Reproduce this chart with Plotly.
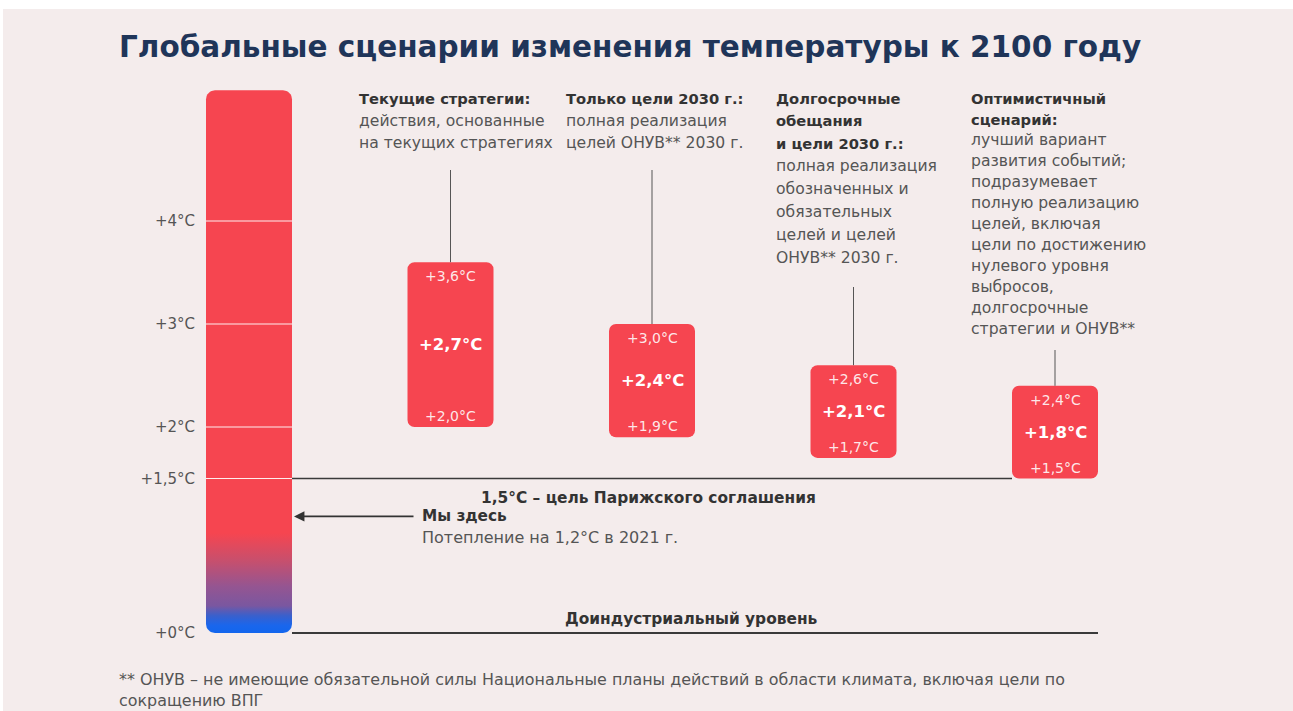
import plotly.graph_objects as go
import math

# ---------------- data ----------------
SCENARIO_NAMES = ["Текущие стратегии", "Только цели 2030 г.",
                  "Долгосрочные обещания и цели 2030 г.", "Оптимистичный сценарий"]
LOW = [2.0, 1.9, 1.7, 1.5]
MID = [2.7, 2.4, 2.1, 1.8]
HIGH = [3.6, 3.0, 2.6, 2.4]

TICK_VALS = [0, 1.5, 2, 3, 4]
TICK_TEXT = ["+0°C", "+1,5°C", "+2°C", "+3°C", "+4°C"]

PARIS_GOAL = 1.5
CURRENT_WARMING = 1.2
THERMO_TOP = 5.27

DESC_BOLD = [
    ["Текущие стратегии:"],
    ["Только цели 2030 г.:"],
    ["Долгосрочные", "обещания", "и цели 2030 г.:"],
    ["Оптимистичный", "сценарий:"],
]
DESC_TEXT = [
    ["действия, основанные", "на текущих стратегиях"],
    ["полная реализация", "целей ОНУВ** 2030 г."],
    ["полная реализация", "обозначенных и", "обязательных", "целей и целей", "ОНУВ** 2030 г."],
    ["лучший вариант", "развития событий;", "подразумевает", "полную реализацию",
     "целей, включая", "цели по достижению", "нулевого уровня", "выбросов,",
     "долгосрочные", "стратегии и ОНУВ**"],
]

TITLE = "Глобальные сценарии изменения температуры к 2100 году"
PARIS_LABEL = "1,5°C – цель Парижского соглашения"
HERE_LABEL = "Мы здесь"
HERE_SUB = "Потепление на 1,2°C в 2021 г."
BASE_LABEL = "Доиндустриальный уровень"
FOOTNOTE_LINES = ["** ОНУВ – не имеющие обязательной силы Национальные планы действий в области климата, "
                  "включая цели по", "сокращению ВПГ"]

def fmt(v):
    return "+" + f"{v:.1f}".replace(".", ",") + "°C"

# ---------------- layout geometry (pixels) ----------------
W, H = 1293, 711
ML, MT = 3, 9
X0_PX, PX_PER_X = 249.0, 201.5     # x = 0 -> thermometer centre
Y0_PX, PX_PER_Y = 633.0, 103.0     # y = 0 -> +0°C
BAR_W_PX = 86
FONT = "DejaVu Sans, Verdana, sans-serif"
RED = "#f64550"
BG = "#f4ecec"
DARK = "#333333"
GREY = "#555555"

def xv(px):
    return (px - X0_PX) / PX_PER_X

def yv(py):
    return (Y0_PX - py) / PX_PER_Y

bar_w = BAR_W_PX / PX_PER_X
xs = [i + 1 for i in range(len(LOW))]

fig = go.Figure()

# thermometer (rounded rectangle with vertical gradient)
def rounded_rect(xc, y0, y1, wpx, rt, rb):
    l = X0_PX + xc * PX_PER_X - wpx / 2
    r = l + wpx
    t = Y0_PX - y1 * PX_PER_Y
    b = Y0_PX - y0 * PX_PER_Y
    pts = []
    def arc(cx, cy, rad, a0, a1):
        for k in range(9):
            a = math.radians(a0 + (a1 - a0) * k / 8)
            pts.append((cx + rad * math.cos(a), cy - rad * math.sin(a)))
    arc(r - rb, b - rb, rb, 0, -90)        # bottom-right
    arc(l + rb, b - rb, rb, -90, -180)     # bottom-left
    arc(l + rt, t + rt, rt, 180, 90)       # top-left
    arc(r - rt, t + rt, rt, 90, 0)         # top-right
    pts.append(pts[0])
    return [xv(p[0]) for p in pts], [yv(p[1]) for p in pts]

tx, ty = rounded_rect(0, 0, THERMO_TOP, BAR_W_PX, 9, 9)
fig.add_trace(go.Scatter(
    x=tx, y=ty, mode="lines", line=dict(width=0), fill="toself",
    fillgradient=dict(type="vertical", start=0, stop=THERMO_TOP,
                      colorscale=[[0, "#1266ee"], [0.014, "#1a66ec"], [0.032, "#3a60cc"],
                                  [0.05, "#7a57a0"], [0.086, "#955591"], [0.135, "#c94f6c"],
                                  [0.184, RED], [1, RED]]),
    hoverinfo="skip", showlegend=False))

# white separators inside thermometer at tick values
for v in TICK_VALS[1:]:
    fig.add_trace(go.Scatter(x=[-bar_w / 2, bar_w / 2], y=[v, v], mode="lines",
                             line=dict(color="rgba(255,255,255,0.9)", width=1),
                             hoverinfo="skip", showlegend=False))

# stems from descriptions to boxes
STEM_TOP_PX = [170, 170, 287, 350]
for i, x in enumerate(xs):
    fig.add_trace(go.Scatter(x=[x, x], y=[HIGH[i], yv(STEM_TOP_PX[i])], mode="lines",
                             line=dict(color=GREY, width=1), hoverinfo="skip", showlegend=False))

# scenario boxes
fig.add_trace(go.Bar(
    x=xs, y=[h - l for h, l in zip(HIGH, LOW)], base=LOW, width=bar_w,
    marker=dict(color=RED, line=dict(width=0), cornerradius=7),
    hoverinfo="skip", showlegend=False))

# Paris goal line and pre-industrial baseline
fig.add_trace(go.Scatter(x=[bar_w / 2, xs[-1] - bar_w / 2], y=[PARIS_GOAL, PARIS_GOAL],
                         mode="lines", line=dict(color="#3a3a3a", width=1.5),
                         hoverinfo="skip", showlegend=False))
fig.add_trace(go.Scatter(x=[bar_w / 2, xs[-1] + bar_w / 2], y=[0, 0],
                         mode="lines", line=dict(color="#3a3a3a", width=2),
                         hoverinfo="skip", showlegend=False))

ann = []
# box labels
for i, x in enumerate(xs):
    ann.append(dict(x=x, y=HIGH[i], text=fmt(HIGH[i]), showarrow=False, yshift=-14,
                    font=dict(size=14, color="rgba(255,255,255,0.88)", family=FONT)))
    ann.append(dict(x=x, y=LOW[i], text=fmt(LOW[i]), showarrow=False, yshift=11,
                    font=dict(size=14, color="rgba(255,255,255,0.88)", family=FONT)))
    ann.append(dict(x=x, y=(LOW[i] + HIGH[i]) / 2, text="<b>" + fmt(MID[i]) + "</b>",
                    showarrow=False, font=dict(size=16.5, color="white", family=FONT)))

# descriptions
DESC_LEFT_PX = [357, 564, 774, 969]
DESC_TOP_PX = 98
DESC_STEP_PX = [22.5, 22.5, 22.8, 21.0]
for i in range(len(xs)):
    lines = [("<b>" + s + "</b>", DARK, 14.7) for s in DESC_BOLD[i]] + \
            [(s, GREY, 15.6) for s in DESC_TEXT[i]]
    for k, (s, c, fs) in enumerate(lines):
        ann.append(dict(x=xv(DESC_LEFT_PX[i]), y=yv(DESC_TOP_PX + k * DESC_STEP_PX[i]),
                        text=s, showarrow=False, xanchor="left", yanchor="middle",
                        font=dict(size=fs, color=c, family=FONT)))

# title
ann.append(dict(x=xv(117), y=yv(47), text="<b>" + TITLE + "</b>", showarrow=False,
                xanchor="left", yanchor="middle", font=dict(size=29.5, color="#1f3559", family=FONT)))

# paris label
ann.append(dict(x=xv(648), y=PARIS_GOAL, yshift=-19, text="<b>" + PARIS_LABEL + "</b>",
                showarrow=False, font=dict(size=15.4, color=DARK, family=FONT)))
# we are here arrow (drawn a few px lower, as in the original infographic)
HERE_SHIFT = -7
ann.append(dict(x=bar_w / 2 + 0.01, y=CURRENT_WARMING, ax=xv(415), ay=CURRENT_WARMING,
                axref="x", ayref="y", text="", showarrow=True, arrowhead=2, arrowsize=1.3,
                arrowwidth=1.6, arrowcolor=DARK, yshift=HERE_SHIFT))
ann.append(dict(x=xv(420), y=CURRENT_WARMING, yshift=HERE_SHIFT, text="<b>" + HERE_LABEL + "</b>",
                showarrow=False, xanchor="left", yanchor="middle",
                font=dict(size=15.3, color=DARK, family=FONT)))
ann.append(dict(x=xv(420), y=CURRENT_WARMING, yshift=HERE_SHIFT - 21, text=HERE_SUB, showarrow=False,
                xanchor="left", yanchor="middle", font=dict(size=16, color=GREY, family=FONT)))
# baseline label
ann.append(dict(x=xv(691), y=0, yshift=14, text="<b>" + BASE_LABEL + "</b>", showarrow=False,
                font=dict(size=15.4, color=DARK, family=FONT)))
# footnote
for k, s in enumerate(FOOTNOTE_LINES):
    ann.append(dict(x=xv(117), y=yv(679 + 21 * k), text=s, showarrow=False, xanchor="left",
                    yanchor="middle", font=dict(size=15.9, color=GREY, family=FONT)))

fig.update_layout(
    width=W, height=H, margin=dict(l=ML, r=0, t=MT, b=0, pad=0),
    paper_bgcolor="white", plot_bgcolor=BG, barmode="overlay",
    annotations=ann, showlegend=False,
    xaxis=dict(range=[xv(ML), xv(W)], visible=False, fixedrange=True),
    yaxis=dict(range=[yv(H), yv(MT)], anchor="free", position=(195 - ML) / (W - ML),
               tickvals=TICK_VALS, ticktext=TICK_TEXT, showgrid=False, zeroline=False,
               showline=False, ticks="", tickfont=dict(size=15, color=GREY, family=FONT),
               fixedrange=True),
)

fig.write_html("out.html")
